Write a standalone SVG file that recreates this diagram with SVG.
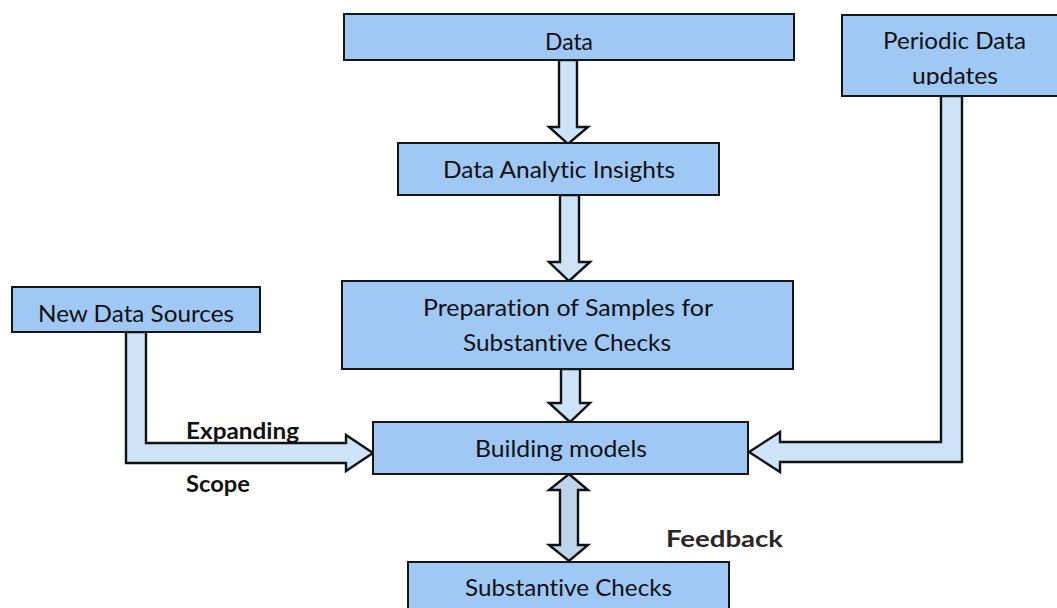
<svg xmlns="http://www.w3.org/2000/svg" width="1057" height="608" viewBox="0 0 1057 608">
  <style>
    .box { fill: #9fc8f4; stroke: #161616; stroke-width: 2; }
    .arrow { fill: #cde3f8; stroke: #111111; stroke-width: 2.4; stroke-linejoin: miter; }
    .arrow2 { fill: #bcd4ec; stroke: #111111; stroke-width: 2.4; stroke-linejoin: miter; }
    .lbl { font-family: Lato, "Open Sans", "Liberation Sans", sans-serif; font-size: 23px; fill: #111111; font-variant-ligatures: none; }
    .note { font-family: Lato, "Open Sans", "Liberation Sans", sans-serif; font-size: 23px; font-weight: bold; fill: #111111; font-variant-ligatures: none; }
  </style>
  <defs>
    <clipPath id="periodicClip">
      <rect x="842" y="15" width="215" height="70"/>
    </clipPath>
  </defs>
  <rect width="1057" height="608" fill="#ffffff"/>

  <g id="connectors">
    <polygon class="arrow" points="559,60 577,60 577,127 588,127 568,144 549,127 559,127"/>
    <polygon class="arrow" points="560,195 579,195 579,262 590,262 569,281 549,262 560,262"/>
    <polygon class="arrow" points="561,369 580,369 580,403 590,403 570,422 549,403 561,403"/>
    <polygon class="arrow2" points="569,474 588,490 578,490 578,545 588,545 569,561 549,545 560,545 560,490 549,490"/>
    <polygon class="arrow" points="126,332 146,332 146,443 346,443 346,435 373,453 346,471 346,463 126,463"/>
    <polygon class="arrow" points="941,96 962,96 962,462 780,462 780,472 749,452 780,432 780,442 941,442"/>
  </g>

  <g id="node-data">
    <rect class="box" x="344" y="14" width="450" height="46"/>
    <text class="lbl" x="545" y="50" textLength="48" lengthAdjust="spacingAndGlyphs">Data</text>
  </g>

  <g id="node-insights">
    <rect class="box" x="398" y="143" width="321" height="52"/>
    <text class="lbl" x="443" y="178" textLength="232" lengthAdjust="spacingAndGlyphs">Data Analytic Insights</text>
  </g>

  <g id="node-preparation">
    <rect class="box" x="342" y="281" width="451" height="88"/>
    <text class="lbl" x="423" y="316" textLength="290" lengthAdjust="spacingAndGlyphs">Preparation of Samples for</text>
    <text class="lbl" x="463" y="351" textLength="208" lengthAdjust="spacingAndGlyphs">Substantive Checks</text>
  </g>

  <g id="node-building">
    <rect class="box" x="373" y="422" width="375" height="52"/>
    <text class="lbl" x="475" y="457" textLength="172" lengthAdjust="spacingAndGlyphs">Building models</text>
  </g>

  <g id="node-checks">
    <rect class="box" x="408" y="562" width="321" height="60"/>
    <text class="lbl" x="465" y="596" textLength="207" lengthAdjust="spacingAndGlyphs">Substantive Checks</text>
  </g>

  <g id="node-sources">
    <rect class="box" x="12" y="287" width="248" height="45"/>
    <text class="lbl" x="38" y="322" textLength="196" lengthAdjust="spacingAndGlyphs">New Data Sources</text>
  </g>

  <g id="node-periodic">
    <rect class="box" x="842" y="15" width="230" height="81"/>
    <g clip-path="url(#periodicClip)">
      <text class="lbl" x="883" y="49" textLength="143" lengthAdjust="spacingAndGlyphs">Periodic Data</text>
      <text class="lbl" x="912" y="84" textLength="86" lengthAdjust="spacingAndGlyphs">updates</text>
    </g>
  </g>

  <g id="labels">
    <text class="note" x="186" y="439" textLength="113" lengthAdjust="spacingAndGlyphs">Expanding</text>
    <text class="note" x="186" y="492" textLength="64" lengthAdjust="spacingAndGlyphs">Scope</text>
    <text class="note" x="666" y="547" textLength="117" lengthAdjust="spacingAndGlyphs" style="fill:#2a2526">Feedback</text>
  </g>
</svg>
